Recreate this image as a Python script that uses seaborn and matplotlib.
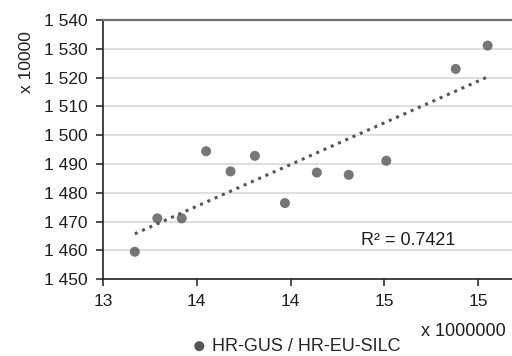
import numpy as np
import pandas as pd
import seaborn as sns
from matplotlib import pyplot as plt
from matplotlib.ticker import FuncFormatter

# values (x in millions, y in tens of thousands)
x_vals = [13.17, 13.29, 13.42, 13.55, 13.68, 13.81, 13.97, 14.14, 14.31, 14.51, 14.88, 15.05]
y_vals = [1459.5, 1471.1, 1471.1, 1494.4, 1487.4, 1492.8, 1476.4, 1487.0, 1486.2, 1491.1, 1523.0, 1531.1]
series_name = "HR-GUS / HR-EU-SILC"
r2_text = "R² = 0.7421"
x_ticks = [13, 13.5, 14, 14.5, 15]
y_ticks = [1450, 1460, 1470, 1480, 1490, 1500, 1510, 1520, 1530, 1540]

df = pd.DataFrame({"x": x_vals, "y": y_vals})

sns.set_style("white")
plt.rcParams['font.family'] = ['Liberation Sans', 'DejaVu Sans']

fig = plt.figure(figsize=(5.12, 3.56), dpi=100)
ax = fig.add_axes([0.201, 0.216, 0.799, 0.728])

grey = "#555555"
txt = "#1e1e1e"
sns.regplot(data=df, x="x", y="y", ax=ax, ci=None, truncate=True,
            scatter_kws=dict(s=52, color=grey, edgecolor="none", zorder=3),
            line_kws=dict(color=grey, linestyle=(0, (1, 1.6)), linewidth=2.2))
# legend handle only
ax.scatter([], [], s=52, color=grey, edgecolor="none", label=series_name)

ax.set_xlim(13, 15.18)
ax.set_ylim(1450, 1540)
ax.set_xticks(x_ticks)
ax.set_yticks(y_ticks)
ax.xaxis.set_major_formatter(FuncFormatter(lambda v, p: f"{int(np.floor(v + 0.5))}"))
ax.yaxis.set_major_formatter(FuncFormatter(lambda v, p: f"{int(v):,}".replace(",", " ")))
ax.set_xlabel("")
ax.set_ylabel("")
ax.yaxis.grid(True, color="#d9d9d9", linewidth=1.2)
ax.set_axisbelow(True)

for s in ["left", "bottom"]:
    ax.spines[s].set_color("#222222")
    ax.spines[s].set_linewidth(1.2)
ax.spines["top"].set_color("#6e6e6e")
ax.spines["top"].set_linewidth(1.6)
ax.spines["right"].set_visible(False)

ax.tick_params(axis="both", which="major", labelsize=12.5, colors=txt,
               length=5, width=1.1, direction="out", pad=6)
ax.tick_params(axis="y", left=True)
ax.tick_params(axis="x", bottom=True)

ax.text(0.63, 0.15, r2_text, transform=ax.transAxes, fontsize=13, color=txt,
        va="center")
fig.text(0.052, 0.825, "x 10000", rotation=90, fontsize=12.5, color=txt,
         ha="center", va="center")
fig.text(0.987, 0.068, "x 1000000", fontsize=13, color=txt, ha="right", va="center")

ax.legend(loc="center", bbox_to_anchor=(0.568, 0.027), bbox_transform=fig.transFigure,
          frameon=False, handletextpad=-0.3, fontsize=13, borderpad=0)

fig.savefig("out.png", dpi=100)
